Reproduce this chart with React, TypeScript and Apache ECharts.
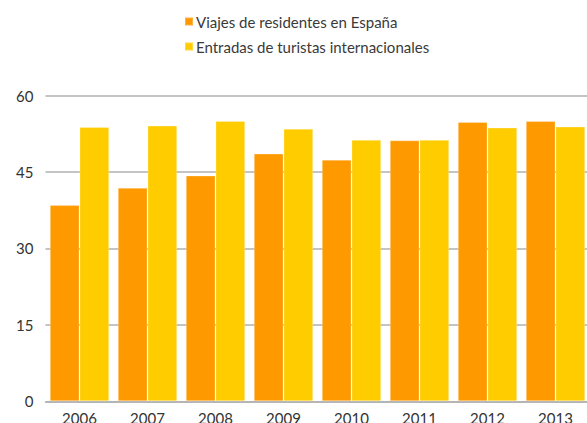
import React, { useEffect, useRef } from "react";
import * as echarts from "echarts";

const categories = ["2006", "2007", "2008", "2009", "2010", "2011", "2012", "2013"];
const residentes = [38.5, 41.9, 44.3, 48.6, 47.4, 51.2, 54.8, 55.0];
const turistas = [53.8, 54.1, 55.0, 53.5, 51.3, 51.3, 53.7, 53.9];
const seriesNames = ["Viajes de residentes en España", "Entradas de turistas internacionales"];

export default function App() {
  const ref = useRef<HTMLDivElement>(null);
  useEffect(() => {
    document.body.style.margin = "0";
    const chart = echarts.init(ref.current!, null, { renderer: "svg" });
    const font = "Lato, 'Open Sans', sans-serif";
    chart.setOption({
      animation: false,
      textStyle: { fontFamily: font },
      legend: {
        orient: "vertical",
        left: 179,
        top: 9,
        itemWidth: 8,
        itemHeight: 8,
        itemGap: 10,
        icon: "rect",
        textStyle: { fontSize: 15, color: "#3a3a3a", fontFamily: font, padding: [0, 0, 0, -2] },
        data: seriesNames,
      },
      grid: {
        left: 45.5,
        right: -2.5,
        top: 95.5,
        bottom: 21.7,
        containLabel: false,
        outerBoundsMode: "none",
      },
      xAxis: {
        type: "category",
        data: categories,
        axisTick: { show: false },
        axisLine: { lineStyle: { color: "#b0b0b0", width: 1.5 } },
        axisLabel: { fontSize: 15, color: "#333", margin: 9, fontFamily: font },
      },
      yAxis: {
        type: "value",
        min: 0,
        max: 60,
        interval: 15,
        axisLine: { show: false },
        axisTick: { show: false },
        axisLabel: { fontSize: 15, color: "#333", margin: 12, fontFamily: font },
        splitLine: { lineStyle: { color: "#b0b0b0", width: 1.5 } },
      },
      series: [
        {
          name: seriesNames[0],
          type: "bar",
          data: residentes,
          barGap: "0%",
          barCategoryGap: "12.6%",
          itemStyle: { color: "#FF9900", borderColor: "rgba(255,255,255,0.25)", borderWidth: 1 },
        },
        {
          name: seriesNames[1],
          type: "bar",
          data: turistas,
          barGap: "0%",
          barCategoryGap: "12.6%",
          itemStyle: { color: "#FFCC00", borderColor: "rgba(255,255,255,0.25)", borderWidth: 1 },
        },
      ],
    });
    return () => chart.dispose();
  }, []);
  return <div ref={ref} style={{ width: 587, height: 423 }} />;
}
